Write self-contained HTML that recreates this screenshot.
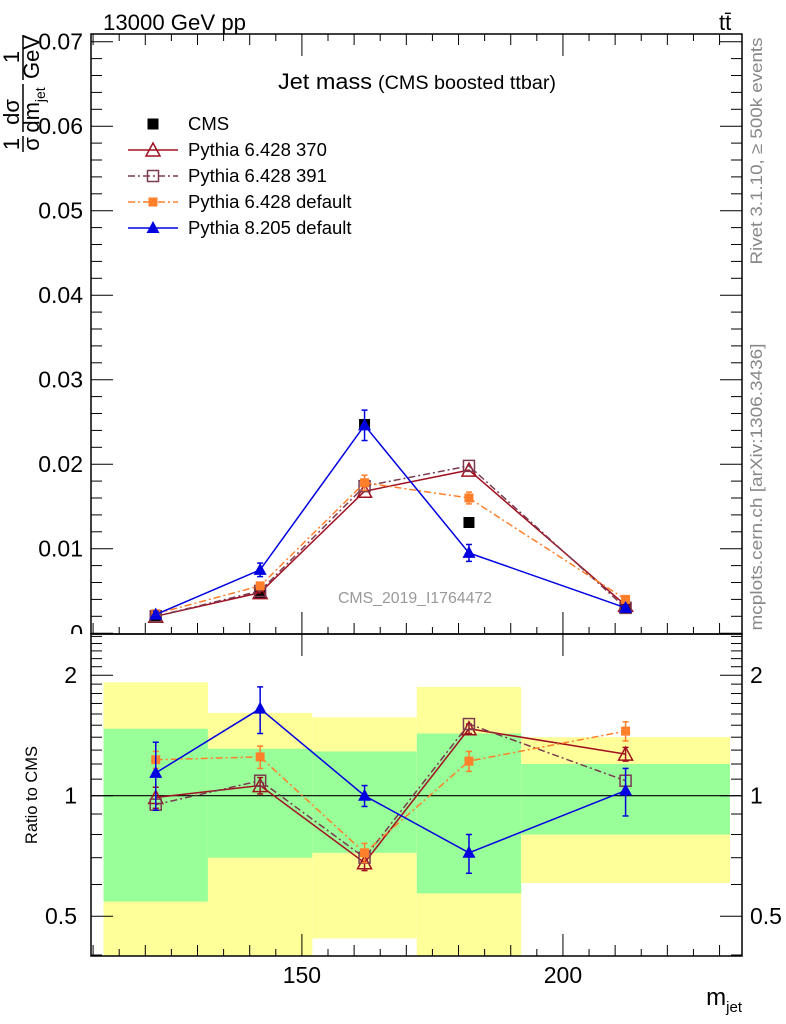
<!DOCTYPE html>
<html><head><meta charset="utf-8"><style>
html,body{margin:0;padding:0;background:#fff;}
svg{display:block;font-family:"Liberation Sans",sans-serif;}
</style></head><body>
<svg id="chart" width="786" height="1024" viewBox="0 0 786 1024" xmlns="http://www.w3.org/2000/svg">
<defs>
<clipPath id="mainClip"><rect x="91" y="34" width="651" height="600"/></clipPath>
<clipPath id="ratioClip"><rect x="91" y="634" width="651" height="322"/></clipPath>
<clipPath id="zeroClip"><rect x="0" y="600" width="90" height="34"/></clipPath>
</defs>
<g id="bands" clip-path="url(#ratioClip)"></g>
<g id="axes"></g>
<g id="series-main" clip-path="url(#mainClip)"></g>
<g id="series-ratio" clip-path="url(#ratioClip)"></g>
<text x="103" y="30" font-size="22" textLength="143" lengthAdjust="spacingAndGlyphs">13000 GeV pp</text>
<text x="719" y="30" font-size="22">tt̄</text>
<text x="278" y="89" font-size="22"><tspan textLength="94" lengthAdjust="spacingAndGlyphs">Jet mass</tspan><tspan x="378" font-size="19" textLength="178" lengthAdjust="spacingAndGlyphs">(CMS boosted ttbar)</tspan></text>
<text x="338" y="603" font-size="16" fill="#999" textLength="154" lengthAdjust="spacingAndGlyphs">CMS_2019_I1764472</text>
<text transform="translate(762,151) rotate(-90)" font-size="17" fill="#888" text-anchor="middle" textLength="227" lengthAdjust="spacingAndGlyphs">Rivet 3.1.10, ≥ 500k events</text>
<text transform="translate(762,487) rotate(-90)" font-size="17" fill="#888" text-anchor="middle" textLength="287" lengthAdjust="spacingAndGlyphs">mcplots.cern.ch [arXiv:1306.3436]</text>
<g transform="translate(19,0) rotate(-90)" font-size="22">
<text x="-144" y="0" text-anchor="middle">1</text>
<line x1="-152" y1="4" x2="-136" y2="4" stroke="#000" stroke-width="1.5"/>
<text x="-144" y="20" text-anchor="middle">σ</text>
<text x="-112" y="0" text-anchor="middle">dσ</text>
<line x1="-132" y1="4" x2="-84" y2="4" stroke="#000" stroke-width="1.5"/>
<text x="-110" y="20" text-anchor="middle">dm<tspan font-size="14" dy="6">jet</tspan></text>
<text x="-57" y="0" text-anchor="middle">1</text>
<line x1="-80" y1="4" x2="-35" y2="4" stroke="#000" stroke-width="1.5"/>
<text x="-57" y="20" text-anchor="middle">GeV</text>
</g>
<text transform="translate(37,795) rotate(-90)" font-size="16.5" text-anchor="middle">Ratio to CMS</text>
<text x="742" y="1005" font-size="24" text-anchor="end">m<tspan font-size="15" dy="7">jet</tspan></text>
<g id="legend"></g>
</svg>
<script>
const binEdges=[112,132,152,172,192,232];
const xCenters=[122,142,162,182,212];
const cmsVals=[0.0021,0.0048,0.0247,0.0131,0.0030];
const p370Vals=[0.0020,0.0048,0.0168,0.0193,0.0033];
const p391Vals=[0.0020,0.0050,0.0174,0.0198,0.0030];
const p6defVals=[0.0023,0.0056,0.0178,0.0160,0.0040];
const p8Vals=[0.0022,0.0075,0.0246,0.0095,0.0030];
const p6defErr=[0.0003,0.0004,0.0009,0.0007,0.0003];
const p8Err=[0.0004,0.0008,0.0018,0.0010,0.0003];
const p370Ratio=[0.99,1.06,0.68,1.47,1.27];
const p391Ratio=[0.95,1.09,0.70,1.51,1.09];
const p6defRatio=[1.23,1.25,0.72,1.22,1.45];
const p8Ratio=[1.14,1.65,1.00,0.72,1.03];
const p6defRatioErr=[0.06,0.08,0.04,0.07,0.08];
const p8RatioErr=[0.22,0.22,0.06,0.08,0.14];
const p370RatioErr=[0.06,0.05,0.03,0.04,0.05];
const greenHi=[1.47,1.31,1.29,1.43,1.20];
const greenLo=[0.544,0.70,0.72,0.57,0.80];
const yellowHi=[1.92,1.61,1.57,1.87,1.40];
const yellowLo=[0.30,0.30,0.44,0.30,0.605];
const mainTicks=[0,0.01,0.02,0.03,0.04,0.05,0.06,0.07];
const mainTickLabels=["0","0.01","0.02","0.03","0.04","0.05","0.06","0.07"];
const ratioTicks=[0.5,1,2];
const ratioTickLabels=["0.5","1","2"];
const xTicks=[150,200];
const xTickLabels=["150","200"];

const NS="http://www.w3.org/2000/svg";
const X0=91,X1=742,YT=34,YM=634,YB=956;
const xDom=[109.6,234.3];
function xs(m){return X0+(m-xDom[0])/(xDom[1]-xDom[0])*(X1-X0);}
function ys(v){return 633.2-v*8450;}
function yr(r){return 795.7-Math.log2(r)*120.5;}
function mk(tag,attrs,parent){const e=document.createElementNS(NS,tag);for(const k in attrs)e.setAttribute(k,attrs[k]);parent.appendChild(e);return e;}

const axes=document.getElementById('axes');
const bands=document.getElementById('bands');
for(let i=0;i<xCenters.length;i++){
  const a=xs(binEdges[i]),b=xs(binEdges[i+1]);
  const y1=mk('rect',{x:a,y:yr(yellowHi[i]),width:b-a,height:yr(yellowLo[i])-yr(yellowHi[i]),fill:'#ffff99'},bands);
  
  
  const g1=mk('rect',{x:a,y:yr(greenHi[i]),width:b-a,height:yr(greenLo[i])-yr(greenHi[i]),fill:'#99ff99'},bands);
  
  
}
const f1=mk('rect',{x:X0,y:YT,width:X1-X0,height:YM-YT,fill:'none',stroke:'#000','stroke-width':1.5},axes);


const f2=mk('rect',{x:X0,y:YM,width:X1-X0,height:YB-YM,fill:'none',stroke:'#000','stroke-width':1.5},axes);


const one=mk('line',{x1:X0,x2:X1,y1:yr(1),y2:yr(1),stroke:'#000','stroke-width':1.2},axes);


for(let m=110;m<=234;m+=5){
  const x=xs(m);const major=(m%50===0);const len=major?22:(m%10===0?11:7);
  for(const [yb,dir] of [[YM,-1],[YT,1],[YB,-1]]){
    mk('line',{x1:x,x2:x,y1:yb,y2:yb+dir*len,stroke:'#000','stroke-width':1},axes);
  }
  if(major){mk('line',{x1:x,x2:x,y1:YM,y2:YM+22,stroke:'#000','stroke-width':1},axes);}
}
xTicks.forEach((m,i)=>{
  const t=mk('text',{x:xs(m),y:983,'font-size':23,'text-anchor':'middle'},axes);t.textContent=xTickLabels[i];
  
  
});
for(let k=0;k<=35;k++){
  const v=k*0.002;const y=ys(v);if(y<YT-0.5)continue;
  const len=(k%5===0)?22:11;
  mk('line',{x1:X0,x2:X0+len,y1:y,y2:y,stroke:'#000','stroke-width':1},axes);
  mk('line',{x1:X1,x2:X1-len,y1:y,y2:y,stroke:'#000','stroke-width':1},axes);
}
mainTicks.forEach((v,i)=>{
  const t=mk('text',{x:83,y:ys(v)+8,'font-size':23,'text-anchor':'end'},axes);t.textContent=mainTickLabels[i];
  if(v===0)t.setAttribute('clip-path','url(#zeroClip)');
  
  
});
const rMinor=[0.4,0.6,0.7,0.8,0.9,1.1,1.2,1.3,1.4,1.5,1.6,1.7,1.8,1.9,2.1,2.2,2.3,2.4,2.5];
rMinor.forEach(r=>{const y=yr(r);if(y<YM||y>YB)return;
  mk('line',{x1:X0,x2:X0+11,y1:y,y2:y,stroke:'#000'},axes);
  mk('line',{x1:X1,x2:X1-11,y1:y,y2:y,stroke:'#000'},axes);});
ratioTicks.forEach((r,i)=>{const y=yr(r);
  mk('line',{x1:X0,x2:X0+22,y1:y,y2:y,stroke:'#000'},axes);
  mk('line',{x1:X1,x2:X1-22,y1:y,y2:y,stroke:'#000'},axes);
  const t=mk('text',{x:77,y:y+8,'font-size':23,'text-anchor':'end'},axes);t.textContent=ratioTickLabels[i];
  
  
  const t2=mk('text',{x:750,y:y+8,'font-size':23},axes);t2.textContent=ratioTickLabels[i];
  
  
});

function marker(g,type,cx,cy,color){
  if(type==='sqfill')return mk('rect',{x:cx-5.5,y:cy-5.5,width:11,height:11,fill:color},g);
  if(type==='sqsmall')return mk('rect',{x:cx-4.5,y:cy-4.5,width:9,height:9,fill:color},g);
  if(type==='sqopen')return mk('rect',{x:cx-5.5,y:cy-5.5,width:11,height:11,fill:'none',stroke:color,'stroke-width':1.5},g);
  if(type==='triopen')return mk('polygon',{points:`${cx},${cy-7} ${cx-7},${cy+6} ${cx+7},${cy+6}`,fill:'none',stroke:color,'stroke-width':1.5},g);
  if(type==='trifill')return mk('polygon',{points:`${cx},${cy-7} ${cx-6.5},${cy+5} ${cx+6.5},${cy+5}`,fill:color},g);
}
function errbar(g,x,y1,y2,color){
  mk('line',{x1:x,x2:x,y1:y1,y2:y2,stroke:color,'stroke-width':1.5},g);
  mk('line',{x1:x-3,x2:x+3,y1:y1,y2:y1,stroke:color,'stroke-width':1.5},g);
  mk('line',{x1:x-3,x2:x+3,y1:y2,y2:y2,stroke:color,'stroke-width':1.5},g);
}
const seriesDefs=[
  {name:'pythia-6-370',color:'#a01020',dash:'',mark:'triopen',main:p370Vals,ratio:p370Ratio,rerr:p370RatioErr},
  {name:'pythia-6-391',color:'#7a3a50',dash:'7,3,2,3',mark:'sqopen',main:p391Vals,ratio:p391Ratio,rerr:null},
  {name:'pythia-6-default',color:'#ff7f2a',dash:'7,3,2,3',mark:'sqsmall',main:p6defVals,ratio:p6defRatio,err:p6defErr,rerr:p6defRatioErr},
  {name:'pythia-8-default',color:'#0000e0',dash:'',mark:'trifill',main:p8Vals,ratio:p8Ratio,err:p8Err,rerr:p8RatioErr}
];
const gm=document.getElementById('series-main'),gr=document.getElementById('series-ratio');
cmsVals.forEach((v,i)=>{const m=marker(gm,'sqfill',xs(xCenters[i]),ys(v),'#000');
  
  });
seriesDefs.forEach(s=>{
  const g=mk('g',{},gm);
  
  
  const pts=s.main.map((v,i)=>xs(xCenters[i])+','+ys(v)).join(' ');
  const pl=mk('polyline',{points:pts,fill:'none',stroke:s.color,'stroke-width':1.5},g);
  if(s.dash)pl.setAttribute('stroke-dasharray',s.dash);
  s.main.forEach((v,i)=>{
    if(s.err)errbar(g,xs(xCenters[i]),ys(v-s.err[i]),ys(v+s.err[i]),s.color);
    marker(g,s.mark,xs(xCenters[i]),ys(v),s.color);
  });
  const h=mk('g',{},gr);
  
  
  const rp=s.ratio.map((v,i)=>xs(xCenters[i])+','+yr(v)).join(' ');
  const pr=mk('polyline',{points:rp,fill:'none',stroke:s.color,'stroke-width':1.5},h);
  if(s.dash)pr.setAttribute('stroke-dasharray',s.dash);
  s.ratio.forEach((v,i)=>{
    if(s.rerr)errbar(h,xs(xCenters[i]),yr(v-s.rerr[i]),yr(v+s.rerr[i]),s.color);
    marker(h,s.mark,xs(xCenters[i]),yr(v),s.color);
  });
});
const lg=document.getElementById('legend');


const legLabels=['CMS','Pythia 6.428 370','Pythia 6.428 391','Pythia 6.428 default','Pythia 8.205 default'];
const legRows=[{color:'#000',mark:'sqfill',dash:null}].concat(seriesDefs.map(s=>({color:s.color,mark:s.mark,dash:s.dash})));
legRows.forEach((r,i)=>{
  const y=124+i*26;
  const e=mk('g',{},lg);
  
  
  if(r.dash!==null){const l=mk('line',{x1:128,x2:178,y1:y,y2:y,stroke:r.color,'stroke-width':1.5},e);if(r.dash)l.setAttribute('stroke-dasharray',r.dash);}
  marker(e,r.mark,153,y,r.color);
  const t=mk('text',{x:188,y:y+6,'font-size':18.5},e);t.textContent=legLabels[i];
});
</script>
</body></html>
